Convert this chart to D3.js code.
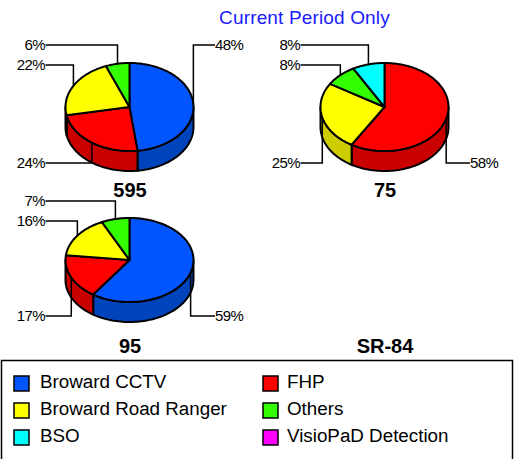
<!DOCTYPE html>
<html>
<head>
<meta charset="utf-8">
<script src="https://cdn.jsdelivr.net/npm/d3@7"></script>
<style>
    html, body { margin: 0; padding: 0; background: #fff; }
    svg { display: block; }
    text { font-family: "Liberation Sans", Arial, sans-serif; }
</style>
</head>
<body>
<div id="chart"></div>
<script>
var categories = ["Broward CCTV", "FHP", "Broward Road Ranger", "Others", "BSO", "VisioPaD Detection"];
var values595 = [48, 24, 22, 6, 0, 0];
var values75 = [0, 58, 25, 8, 8, 0];
var values95 = [59, 17, 16, 7, 0, 0];
var colors = ["#0055ff", "#ff0000", "#ffff00", "#33ff00", "#00ffff", "#ff00ff"];
var darkColors = ["#0044bb", "#c80000", "#cccc00", "#28cc00", "#00cccc", "#cc00cc"];
var legendOrder = [0, 1, 2, 3, 4, 5];

var width = 515, height = 459;

var svg = d3.select("#chart").append("svg")
    .attr("width", width)
    .attr("height", height);

svg.append("text")
    .attr("x", 304.5)
    .attr("y", 24)
    .attr("text-anchor", "middle")
    .attr("fill", "#1a1aff")
    .style("font-size", "19px")
    .style("letter-spacing", "0.15px")
    .text("Current Period Only");

function drawPie(values, name, o) {
    var x = d3.scaleLinear().domain([-1, 1]).range([o.cx - o.rx, o.cx + o.rx]);
    var y = d3.scaleLinear().domain([-1, 1]).range([o.cy + o.ry, o.cy - o.ry]);
    var g = svg.append("g");

    var pie = d3.pie().sort(null).value(d => d.value);
    var slices = pie(values.map((v, i) => ({ value: v, index: i }))).filter(d => d.data.value > 0);

    function rim(a0, a1, dy) {
        var n = Math.max(2, Math.ceil((a1 - a0) * 30));
        return d3.range(n + 1).map(i => {
            var a = a0 + (a1 - a0) * i / n;
            return [x(Math.sin(a)), y(Math.cos(a)) + dy];
        });
    }
    var line = d3.line();

    // side wall, only the front half of the ellipse shows
    slices.forEach(d => {
        var a0 = Math.max(d.startAngle, Math.PI / 2), a1 = Math.min(d.endAngle, Math.PI * 1.5);
        if (a1 <= a0) return;
        var pts = rim(a0, a1, 0).concat(rim(a0, a1, o.depth).reverse());
        g.append("path")
            .attr("d", line(pts) + "Z")
            .attr("fill", darkColors[d.data.index])
            .attr("stroke", "#000")
            .attr("stroke-width", 2)
            .attr("stroke-linejoin", "round");
    });

    // top face
    slices.forEach(d => {
        var pts = [[x(0), y(0)]].concat(rim(d.startAngle, d.endAngle, 0));
        g.append("path")
            .attr("d", line(pts) + "Z")
            .attr("fill", colors[d.data.index])
            .attr("stroke", "#000")
            .attr("stroke-width", 2)
            .attr("stroke-linejoin", "round");
    });

    // leader lines and percent labels
    slices.forEach((d, i) => {
        var mid = (d.startAngle + d.endAngle) / 2;
        var px = x(Math.sin(mid)), py = y(Math.cos(mid));
        var right = Math.sin(mid) > 0;
        var ly;
        if (Math.cos(mid) < 0 || (right && o.rightLow)) ly = o.lowY;
        else if (right) ly = o.topY;
        else ly = Math.sin(mid) > -0.3 ? o.topY : o.secondY;
        var ex = right ? o.cx + 85.5 : o.cx - 84;
        g.append("path")
            .attr("d", line([[ex, ly], [px, ly], [px, py]]))
            .attr("fill", "none")
            .attr("stroke", "#000")
            .attr("stroke-width", 1.5);
        g.append("text")
            .attr("x", right ? ex : ex - 0.5)
            .attr("y", ly + 5)
            .attr("text-anchor", right ? "start" : "end")
            .attr("fill", "#000")
            .style("font-size", "15px")
            .style("letter-spacing", "-0.6px")
            .text(d.data.value + "%");
    });

    svg.append("text")
        .attr("x", o.cx + 0.5)
        .attr("y", o.labelY)
        .attr("text-anchor", "middle")
        .attr("font-weight", "bold")
        .style("font-size", "20px")
        .text(name);
}

drawPie(values595, "595", { cx: 129.5, cy: 107, rx: 64, ry: 44, depth: 20, topY: 45, secondY: 65, lowY: 163, rightLow: false, labelY: 197 });
drawPie(values75, "75", { cx: 384.5, cy: 107, rx: 64, ry: 44, depth: 20, topY: 45, secondY: 65, lowY: 163, rightLow: true, labelY: 197 });
drawPie(values95, "95", { cx: 129.5, cy: 260, rx: 64, ry: 42, depth: 20, topY: 201, secondY: 221, lowY: 316, rightLow: true, labelY: 353 });

svg.append("text")
    .attr("x", 385)
    .attr("y", 353)
    .attr("text-anchor", "middle")
    .attr("font-weight", "bold")
    .style("font-size", "20px")
    .text("SR-84");

// legend box runs off the bottom of the picture
svg.append("rect")
    .attr("x", 1.5)
    .attr("y", 360.5)
    .attr("width", 511)
    .attr("height", 110)
    .attr("fill", "#fff")
    .attr("stroke", "#000")
    .attr("stroke-width", 1.5);

var legendX = d3.scalePoint().domain([0, 1]).range([14, 263]);
var legendY = d3.scalePoint().domain([0, 1, 2]).range([376, 430]);

legendOrder.forEach((c, i) => {
    var col = i % 2, row = Math.floor(i / 2);
    svg.append("rect")
        .attr("x", legendX(col))
        .attr("y", legendY(row))
        .attr("width", 15)
        .attr("height", 15)
        .attr("fill", colors[c])
        .attr("stroke", "#000")
        .attr("stroke-width", 1.5);
    svg.append("text")
        .attr("x", legendX(col) + (col ? 24 : 26))
        .attr("y", legendY(row) + 12)
        .style("font-size", "18.8px")
        .attr("fill", "#000")
        .text(categories[c]);
});
</script>
</body>
</html>
